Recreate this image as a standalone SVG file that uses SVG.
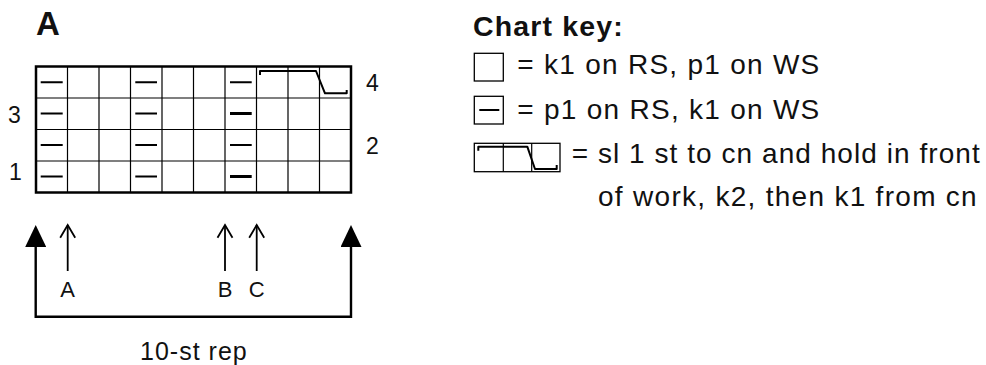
<svg xmlns="http://www.w3.org/2000/svg" width="986" height="365" viewBox="0 0 986 365">
<defs>
<style>
text{font-family:"Liberation Sans",Arial,sans-serif;fill:#111}
.t{font-size:28px}
.n{font-size:23px}
.l{font-size:22px}
.b{font-weight:bold}
.grid{stroke:#000;stroke-width:1.2;fill:none}
.frame{stroke:#000;stroke-width:2.5;fill:none}
.box{stroke:#000;stroke-width:1.3;fill:#fff}
.dash{stroke:#000;stroke-width:2}
.dash3{stroke:#000;stroke-width:3}
.cable{stroke:#000;stroke-width:2;fill:none;stroke-linejoin:round}
.conn{stroke:#000;stroke-width:2.4;fill:none}
.thin{stroke:#000;stroke-width:1.8;fill:none}
</style>
<marker id="solid" markerUnits="userSpaceOnUse" viewBox="0 0 22 21" refX="0" refY="10.5" markerWidth="22" markerHeight="21" orient="auto-start-reverse">
<path d="M0,0 L22,10.5 L0,21 Z" fill="#000"/>
</marker>
<marker id="open" markerUnits="userSpaceOnUse" viewBox="-1 -1 16 17" refX="12.7" refY="7.5" markerWidth="16" markerHeight="17" orient="auto" overflow="visible">
<path d="M0,0 L12.7,7.5 L0,15" fill="none" stroke="#000" stroke-width="1.8" stroke-linejoin="miter"/>
</marker>
</defs>

<g id="title"><text class="b" x="36" y="35" font-size="33">A</text></g>

<g id="chart">
<path class="grid" d="M67.5,66.5V192.5M99,66.5V192.5M130.5,66.5V192.5M162,66.5V192.5M193.5,66.5V192.5M225,66.5V192.5M256.5,98V192.5M288,98V192.5M319.5,98V192.5M36,98H351M36,129.5H351M36,161H351"/>
<path class="grid" d="M256.5,66.5V98M288,66.5V98M319.5,66.5V98"/>
<rect class="frame" x="36" y="66.5" width="315" height="126"/>
<path class="dash" d="M40.7,82.3H62.7M40.7,113.5H62.7M40.7,145H62.7M40.7,176.6H62.7M135.3,82.3H157M135.3,113.5H157M135.3,145H157M135.3,176.6H157M230,82.3H251.7M230,145H251.7"/>
<path class="dash3" d="M230,113.5H251.7M230,176.6H251.7"/>
<path class="cable" d="M260,75V71H316L325,93.3H346.7V90"/>
</g>

<g id="row-labels">
<text class="n" x="14.5" y="123" text-anchor="middle">3</text>
<text class="n" x="15.5" y="179.5" text-anchor="middle">1</text>
<text class="n" x="372.5" y="90.7" text-anchor="middle">4</text>
<text class="n" x="372.5" y="154.3" text-anchor="middle">2</text>
</g>

<g id="connectors">
<path class="conn" d="M35.7,247V316.7H351V247" marker-start="url(#solid)" marker-end="url(#solid)"/>
<path class="thin" d="M67.7,271V225" marker-end="url(#open)"/>
<path class="thin" d="M225,271V225" marker-end="url(#open)"/>
<path class="thin" d="M256.7,271V225" marker-end="url(#open)"/>
</g>

<g id="marker-labels">
<text class="l" x="67.7" y="296.7" text-anchor="middle">A</text>
<text class="l" x="225" y="296.7" text-anchor="middle">B</text>
<text class="l" x="256.7" y="296.7" text-anchor="middle">C</text>
<text x="140" y="360" font-size="25" textLength="106.7" lengthAdjust="spacing">10-st rep</text>
</g>

<g id="key">
<text class="b" x="473" y="35.7" font-size="28.5" textLength="149.7" lengthAdjust="spacing">Chart key:</text>
<g id="key-knit">
<rect class="box" x="474.3" y="53.3" width="29" height="27.7"/>
<text class="t" x="517.3" y="74" textLength="302" lengthAdjust="spacing">= k1 on RS, p1 on WS</text>
</g>
<g id="key-purl">
<rect class="box" x="474.3" y="96.3" width="29" height="27.7"/>
<path class="dash" d="M479.3,110H499.3"/>
<text class="t" x="517.3" y="118.5" textLength="302" lengthAdjust="spacing">= p1 on RS, k1 on WS</text>
</g>
<g id="key-cable">
<rect class="box" x="474.3" y="143.3" width="85.7" height="28.4"/>
<path class="grid" d="M503.3,143.3V171.7M531.7,143.3V171.7"/>
<path class="cable" d="M478.3,150.7V146.7H527.3L535,169H556.7V165"/>
<text class="t" x="571.7" y="163" textLength="408" lengthAdjust="spacing">= sl 1 st to cn and hold in front</text>
<text class="t" x="598" y="206" textLength="378.7" lengthAdjust="spacing">of work, k2, then k1 from cn</text>
</g>
</g>
</svg>
